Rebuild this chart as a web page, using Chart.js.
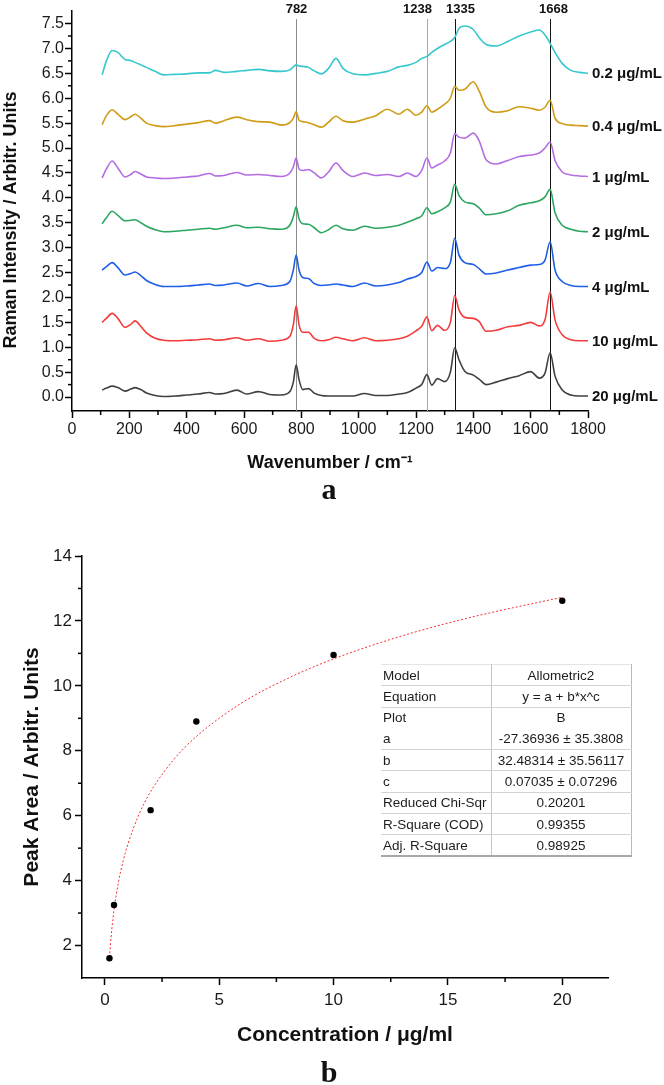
<!DOCTYPE html>
<html><head><meta charset="utf-8">
<script src="https://cdn.jsdelivr.net/npm/chart.js@4.4.1/dist/chart.umd.min.js"></script>
<style>
html,body{margin:0;padding:0;background:#fff;}
#wrap{position:relative;width:664px;height:1085px;overflow:hidden;background:#fff;}
#c1{position:absolute;left:0;top:0;}
#c2{position:absolute;left:0;top:505px;}
#fit{position:absolute;left:381px;top:664px;border-collapse:collapse;font-family:"Liberation Sans",Arial,sans-serif;font-size:13.5px;color:#1c1c1c;table-layout:fixed;}
#fit td{height:21.3px;padding:0;border-bottom:1px solid #d2d2da;box-sizing:border-box;white-space:nowrap;overflow:hidden;}
#fit td.k{width:110px;padding-left:2px;text-align:left;border-right:1px solid #c4c4c4;}
#fit td.v{width:140px;text-align:center;border-right:1px solid #b8b8b8;}
#fit tr.first td{border-top:1px solid #e4e4e4;}
#fit tr.nob td{border-bottom:none;}
#fit tr.last td{border-bottom:2px solid #a8a8a8;}
</style></head>
<body><div id="wrap">
<canvas id="c1" width="664" height="505"></canvas>
<canvas id="c2" width="664" height="580"></canvas>
<table id="fit"></table>
</div>
<script>
// ---------- Data: panel a (Raman spectra, offset traces) ----------
const wavenumbers = [105,120,140,160,185,205,220,240,260,290,320,360,400,440,480,500,530,575,610,650,690,730,760,772,782,792,805,825,845,870,895,921,945,980,1020,1060,1100,1140,1170,1200,1220,1238,1255,1275,1300,1320,1335,1350,1370,1400,1420,1445,1480,1520,1560,1600,1630,1650,1668,1685,1710,1740,1770,1800];
const spec_0_2 = [6.47,6.75,6.96,6.92,6.78,6.76,6.72,6.67,6.62,6.54,6.47,6.48,6.49,6.51,6.51,6.56,6.52,6.54,6.56,6.58,6.55,6.54,6.57,6.63,6.67,6.65,6.64,6.62,6.55,6.49,6.60,6.80,6.60,6.49,6.47,6.50,6.54,6.63,6.66,6.72,6.80,6.84,6.92,7.00,7.08,7.14,7.22,7.40,7.45,7.38,7.22,7.08,7.05,7.14,7.25,7.33,7.37,7.27,7.10,6.92,6.70,6.56,6.52,6.50];
const spec_0_4 = [5.47,5.65,5.77,5.68,5.57,5.63,5.68,5.60,5.50,5.45,5.43,5.45,5.48,5.51,5.55,5.50,5.55,5.62,5.57,5.53,5.52,5.46,5.51,5.60,5.73,5.56,5.53,5.51,5.47,5.42,5.52,5.64,5.55,5.52,5.58,5.65,5.78,5.68,5.78,5.66,5.72,5.85,5.72,5.78,5.88,6.00,6.24,6.16,6.18,6.33,6.15,5.82,5.72,5.75,5.83,5.80,5.76,5.82,5.96,5.60,5.49,5.46,5.45,5.44];
const spec_1 = [4.40,4.58,4.74,4.60,4.42,4.47,4.53,4.48,4.42,4.40,4.39,4.40,4.42,4.44,4.49,4.44,4.45,4.51,4.46,4.47,4.45,4.43,4.50,4.62,4.80,4.58,4.55,4.57,4.50,4.40,4.52,4.70,4.55,4.43,4.50,4.45,4.47,4.43,4.50,4.43,4.55,4.80,4.60,4.66,4.74,4.90,5.29,5.22,5.20,5.30,5.15,4.76,4.68,4.75,4.83,4.86,4.90,5.00,5.12,4.75,4.52,4.46,4.44,4.43];
const spec_2 = [3.48,3.60,3.73,3.65,3.54,3.55,3.56,3.50,3.43,3.36,3.32,3.33,3.35,3.37,3.39,3.37,3.40,3.45,3.40,3.41,3.38,3.37,3.45,3.62,3.82,3.58,3.48,3.47,3.40,3.30,3.36,3.45,3.38,3.35,3.43,3.39,3.41,3.45,3.51,3.58,3.64,3.80,3.68,3.72,3.80,3.92,4.27,4.05,3.92,3.88,3.80,3.66,3.68,3.74,3.85,3.90,3.94,4.02,4.17,3.70,3.45,3.37,3.33,3.32];
const spec_4 = [2.55,2.62,2.70,2.60,2.45,2.48,2.51,2.44,2.34,2.26,2.22,2.22,2.23,2.25,2.27,2.24,2.25,2.29,2.23,2.28,2.22,2.24,2.32,2.55,2.85,2.55,2.40,2.38,2.28,2.24,2.25,2.27,2.25,2.22,2.29,2.23,2.25,2.30,2.37,2.42,2.50,2.71,2.53,2.60,2.58,2.70,3.19,2.85,2.70,2.66,2.58,2.47,2.49,2.55,2.60,2.65,2.66,2.75,3.12,2.55,2.32,2.24,2.22,2.22];
const spec_10 = [1.50,1.58,1.68,1.58,1.40,1.46,1.53,1.42,1.29,1.18,1.14,1.13,1.14,1.15,1.17,1.14,1.15,1.19,1.14,1.17,1.12,1.14,1.22,1.45,1.83,1.45,1.30,1.30,1.18,1.13,1.15,1.20,1.17,1.13,1.19,1.13,1.14,1.17,1.22,1.33,1.42,1.61,1.33,1.44,1.34,1.50,2.04,1.75,1.60,1.58,1.52,1.32,1.34,1.41,1.44,1.50,1.43,1.55,2.11,1.55,1.25,1.15,1.13,1.13];
const spec_20 = [0.14,0.18,0.22,0.19,0.12,0.16,0.19,0.15,0.08,0.03,0.01,0.02,0.04,0.06,0.09,0.06,0.07,0.14,0.06,0.11,0.05,0.04,0.11,0.30,0.65,0.35,0.15,0.17,0.08,0.03,0.02,0.02,0.02,0.02,0.07,0.03,0.03,0.06,0.09,0.18,0.25,0.45,0.24,0.37,0.31,0.50,0.99,0.75,0.52,0.44,0.36,0.25,0.30,0.37,0.43,0.51,0.38,0.48,0.89,0.42,0.14,0.04,0.02,0.02];
const seriesLabels = ['0.2 μg/mL','0.4 μg/mL','1 μg/mL','2 μg/mL','4 μg/mL','10 μg/mL','20 μg/mL'];
const peakPositions = [782, 1238, 1335, 1668];
const peakLabels = ['782','1238','1335','1668'];
const xTicksA = [0,200,400,600,800,1000,1200,1400,1600,1800];
const xMinorA = [100,300,500,700,900,1100,1300,1500,1700];
const yTicksA = [0,0.5,1,1.5,2,2.5,3,3.5,4,4.5,5,5.5,6,6.5,7,7.5];
const yMinorA = [0.25,0.75,1.25,1.75,2.25,2.75,3.25,3.75,4.25,4.75,5.25,5.75,6.25,6.75,7.25];

// ---------- Data: panel b (peak area vs concentration) ----------
const concentration = [0.2, 0.4, 2, 4, 10, 20];
const peakArea = [1.61, 3.25, 6.17, 8.9, 10.95, 12.62];
const fitX = [0.2,0.3,0.4,0.6,0.8,1,1.5,2,3,4,6,8,10,13,16,20];
const fitY = [1.64,2.48,3.09,3.97,4.61,5.11,6.05,6.74,7.72,8.44,9.48,10.23,10.83,11.54,12.11,12.73];
const xTicksB = [0,5,10,15,20];
const xMinorB = [2.5,7.5,12.5,17.5];
const yTicksB = [2,4,6,8,10,12,14];
const yMinorB = [3,5,7,9,11,13];
const tableNames = ['Model','Equation','Plot','a','b','c','Reduced Chi-Sqr','R-Square (COD)','Adj. R-Square'];
const tableValues = ['Allometric2','y = a + b*x^c','B','-27.36936 ± 35.3808','32.48314 ± 35.56117','0.07035 ± 0.07296','0.20201','0.99355','0.98925'];

// ---------- Rendering ----------
const SANS = '"Liberation Sans", Arial, sans-serif';
const SERIF = '"Liberation Serif", "Times New Roman", serif';
Chart.defaults.font.family = SANS;
Chart.defaults.color = '#1a1a1a';

const spectra = [spec_0_2, spec_0_4, spec_1, spec_2, spec_4, spec_10, spec_20];
const colors = ['#36c8cc','#d09c16','#b46ce2','#2ca660','#1f5fe6','#f23c3c','#404040'];

const minorTicks = {
  id: 'minorTicks',
  afterDraw(chart, args, opts) {
    const ctx = chart.ctx, a = chart.chartArea;
    const xs = chart.scales.x, ys = chart.scales.y;
    ctx.save();
    ctx.strokeStyle = '#000'; ctx.lineWidth = 1.5;
    (opts.x || []).forEach(v => {
      const p = xs.getPixelForValue(v);
      ctx.beginPath(); ctx.moveTo(p, a.bottom); ctx.lineTo(p, a.bottom + opts.len); ctx.stroke();
    });
    (opts.y || []).forEach(v => {
      const p = ys.getPixelForValue(v);
      ctx.beginPath(); ctx.moveTo(a.left, p); ctx.lineTo(a.left - opts.len, p); ctx.stroke();
    });
    ctx.restore();
  }
};

const setTicks = arr => scale => { scale.ticks = arr.map(v => ({value: v})); };

const panelA = {
  id: 'panelA',
  beforeDatasetsDraw(chart) {
    const ctx = chart.ctx, a = chart.chartArea, xs = chart.scales.x;
    const lineColors = ['#8c8c8c','#a8a8a8','#151515','#151515'];
    const shift = [0, -10, 5, 3];
    ctx.save();
    peakPositions.forEach((v, i) => {
      const p = Math.round(xs.getPixelForValue(v)) + 0.5;
      ctx.strokeStyle = lineColors[i]; ctx.lineWidth = 1;
      ctx.beginPath(); ctx.moveTo(p, 19); ctx.lineTo(p, a.bottom); ctx.stroke();
      ctx.fillStyle = '#111'; ctx.font = 'bold 13px ' + SANS;
      ctx.textAlign = 'center'; ctx.textBaseline = 'middle';
      ctx.fillText(peakLabels[i], p + shift[i], 9);
    });
    ctx.restore();
  },
  afterDraw(chart) {
    const ctx = chart.ctx, a = chart.chartArea, ys = chart.scales.y;
    ctx.save();
    ctx.fillStyle = '#111'; ctx.font = 'bold 15px ' + SANS;
    ctx.textAlign = 'left'; ctx.textBaseline = 'middle';
    spectra.forEach((s, i) => {
      ctx.fillText(seriesLabels[i], a.right + 4, ys.getPixelForValue(s[s.length - 1]) + 1);
    });
    // y-axis title
    ctx.save();
    ctx.translate(15.5, 220); ctx.rotate(-Math.PI / 2);
    ctx.font = 'bold 18px ' + SANS; ctx.textAlign = 'center'; ctx.textBaseline = 'alphabetic';
    ctx.fillText('Raman Intensity / Arbitr. Units', 0, 0);
    ctx.restore();
    // panel letter
    ctx.font = 'bold 30px ' + SERIF; ctx.textAlign = 'center'; ctx.textBaseline = 'alphabetic';
    ctx.fillText('a', 329, 499);
    ctx.restore();
  }
};

new Chart(document.getElementById('c1'), {
  type: 'line',
  data: {
    datasets: spectra.map((s, i) => ({
      label: seriesLabels[i],
      data: wavenumbers.map((w, j) => ({x: w, y: s[j]})),
      borderColor: colors[i], borderWidth: 1.6, pointRadius: 0,
      cubicInterpolationMode: 'monotone', fill: false
    }))
  },
  options: {
    responsive: false, devicePixelRatio: 1, animation: false, events: [],
    layout: {padding: {left: 0, right: 76, top: 3, bottom: 0}},
    plugins: {legend: {display: false}, tooltip: {enabled: false},
      minorTicks: {x: xMinorA, y: yMinorA, len: 4}},
    scales: {
      x: {
        type: 'linear', min: 0, max: 1800,
        afterBuildTicks: setTicks(xTicksA),
        afterFit: s => { s.height = 94; },
        grid: {drawOnChartArea: false, drawTicks: true, tickLength: 7, tickColor: '#000', tickWidth: 1.5},
        border: {display: true, color: '#000', width: 1.5},
        ticks: {font: {size: 16}, color: '#1a1a1a', padding: 2, maxRotation: 0, autoSkip: false, callback: v => String(v)},
        title: {display: true, text: 'Wavenumber / cm⁻¹', font: {size: 18, weight: 'bold'}, color: '#111', padding: {top: 0, bottom: 31}}
      },
      y: {
        type: 'linear', min: -0.28, max: 7.76,
        afterBuildTicks: setTicks(yTicksA),
        afterFit: s => { s.width = 72; },
        grid: {drawOnChartArea: false, drawTicks: true, tickLength: 7, tickColor: '#000', tickWidth: 1.5},
        border: {display: true, color: '#000', width: 1.5},
        ticks: {font: {size: 16}, color: '#1a1a1a', padding: 1, autoSkip: false, callback: v => Number(v).toFixed(1)}
      }
    }
  },
  plugins: [minorTicks, panelA]
});

const panelB = {
  id: 'panelB',
  afterDraw(chart) {
    const ctx = chart.ctx;
    ctx.save();
    ctx.fillStyle = '#111';
    ctx.font = 'bold 30px ' + SERIF; ctx.textAlign = 'center'; ctx.textBaseline = 'alphabetic';
    ctx.fillText('b', 329, 577);
    ctx.restore();
  }
};

new Chart(document.getElementById('c2'), {
  type: 'scatter',
  data: {
    datasets: [
      {type: 'scatter', label: 'B', data: concentration.map((c, i) => ({x: c, y: peakArea[i]})),
       pointRadius: 3.2, backgroundColor: '#000', borderWidth: 0, order: 1},
      {type: 'line', label: 'Allometric2 fit', data: fitX.map((x, i) => ({x, y: fitY[i]})),
       borderColor: '#f03030', borderWidth: 1, borderDash: [2, 2], pointRadius: 0,
       cubicInterpolationMode: 'monotone', fill: false, order: 2}
    ]
  },
  options: {
    responsive: false, devicePixelRatio: 1, animation: false, events: [],
    layout: {padding: {left: 0, right: 56, top: 51, bottom: 0}},
    plugins: {legend: {display: false}, tooltip: {enabled: false},
      minorTicks: {x: xMinorB, y: yMinorB, len: 4}},
    scales: {
      x: {
        type: 'linear', min: -1, max: 22,
        afterBuildTicks: setTicks(xTicksB),
        afterFit: s => { s.height = 107; },
        grid: {drawOnChartArea: false, drawTicks: true, tickLength: 7, tickColor: '#000', tickWidth: 1.5},
        border: {display: true, color: '#000', width: 1.5},
        ticks: {font: {size: 17}, color: '#1a1a1a', padding: 5, maxRotation: 0, autoSkip: false, callback: v => String(v)},
        title: {display: true, text: 'Concentration / μg/ml', font: {size: 21, weight: 'bold'}, color: '#111', padding: {top: 0, bottom: 37}}
      },
      y: {
        type: 'linear', min: 1, max: 14,
        afterBuildTicks: setTicks(yTicksB),
        afterFit: s => { s.width = 82; },
        grid: {drawOnChartArea: false, drawTicks: true, tickLength: 7, tickColor: '#000', tickWidth: 1.5},
        border: {display: true, color: '#000', width: 1.5},
        ticks: {font: {size: 17}, color: '#1a1a1a', padding: 3, autoSkip: false, callback: v => String(v)},
        title: {display: true, text: 'Peak Area / Arbitr. Units', font: {size: 21, weight: 'bold'}, color: '#111', padding: {top: 20, bottom: 0}}
      }
    }
  },
  plugins: [minorTicks, panelB]
});

// fit-result table
const tbl = document.getElementById('fit');
tableNames.forEach((n, i) => {
  const tr = document.createElement('tr');
  if (i === 0) tr.className = 'first';
  if (i === 2) tr.className = 'nob';
  if (i === tableNames.length - 1) tr.className = 'last';
  const k = document.createElement('td'); k.className = 'k'; k.textContent = n;
  const v = document.createElement('td'); v.className = 'v'; v.textContent = tableValues[i];
  tr.appendChild(k); tr.appendChild(v); tbl.appendChild(tr);
});
</script>
</body></html>
